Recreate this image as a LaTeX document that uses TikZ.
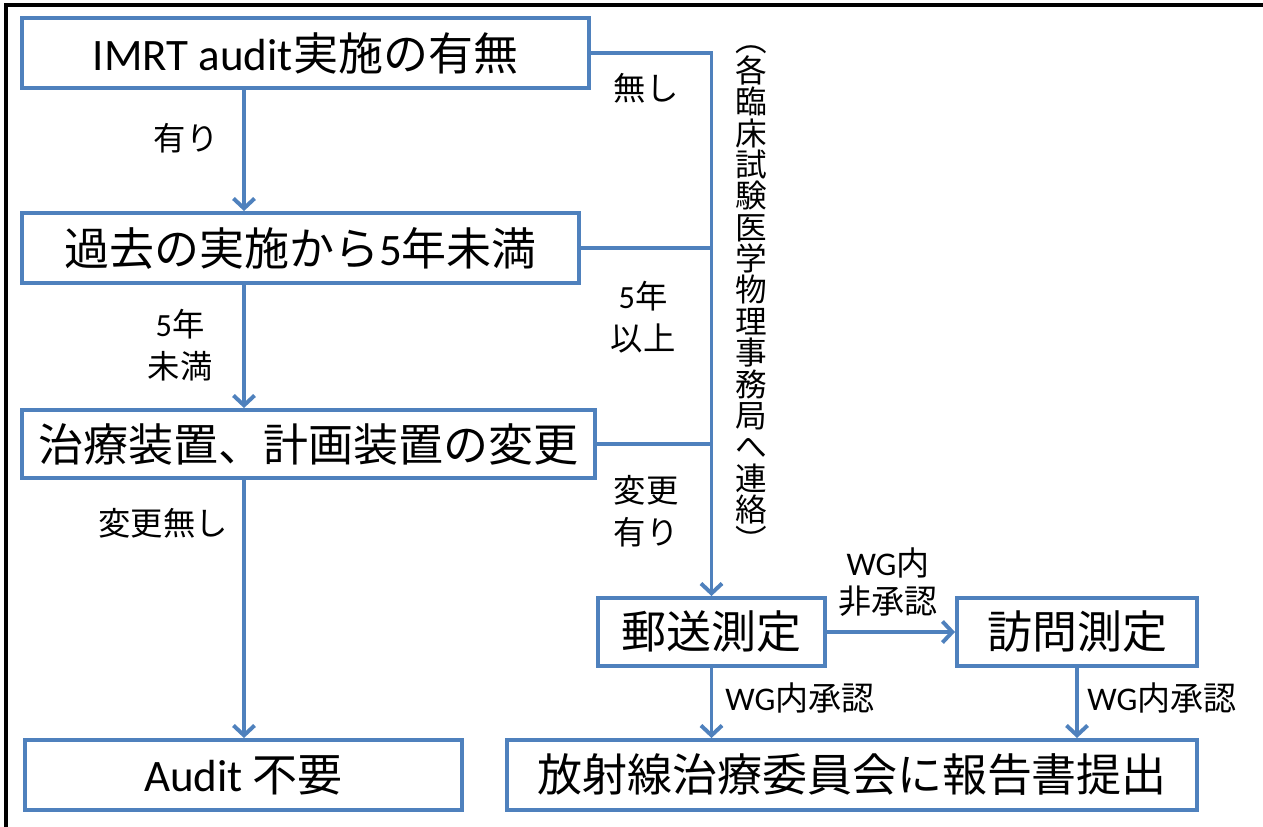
\documentclass[tikz,border=0pt]{standalone}
\usepackage{fontspec}
\setmainfont{Noto Sans CJK JP}
\newfontfamily\eng{Carlito}
\usetikzlibrary{arrows.meta}
\definecolor{flowblue}{HTML}{4F81BD}

\tikzset{box/.style   = {draw=flowblue, line width=2.8pt, fill=white, inner sep=0pt,
                         font=\fontsize{32}{32}\selectfont},
         lab/.style   = {align=center, inner sep=0pt, font=\fontsize{23}{30}\selectfont},
         wglab/.style = {align=center, inner sep=0pt, font=\fontsize{23.5}{27}\selectfont},
         flow/.style  = {draw=flowblue, line width=2.8pt,
                         -{Straight Barb[length=7pt,width=15pt]}},
         trunk/.style = {draw=flowblue, line width=2.8pt},
         frame/.style = {draw=black, line width=2.2pt}
        }

\begin{document}
\begin{tikzpicture}[x=0.025cm, y=-0.025cm]
  \useasboundingbox (0,0) rectangle (1263,827);
  \draw[frame] (1263,5) -| (6,827);

  % boxes
  \node[box, minimum width=14.175cm, minimum height=1.75cm] (imrt)    at (305.5,53) {{\eng IMRT audit}実施の有無};
  \node[box, minimum width=13.925cm, minimum height=1.75cm] (past)    at (300.5,248) {過去の実施から{\eng 5}年未満};
  \node[box, minimum width=14.325cm, minimum height=1.7cm]  (change)  at (308.5,444) {治療装置、計画装置の変更};
  \node[box, minimum width=10.925cm, minimum height=1.75cm] (noaudit) at (243.5,775) {{\eng Audit} 不要};
  \node[box, minimum width=5.675cm,  minimum height=1.7cm]  (mail)    at (711.5,632) {郵送測定};
  \node[box, minimum width=6cm,      minimum height=1.7cm]  (visit)   at (1077,632) {訪問測定};
  \node[box, minimum width=17.25cm,  minimum height=1.75cm] (report)  at (852,775) {放射線治療委員会に報告書提出};

  \coordinate (colL) at (244,0);

  % left column
  \draw[flow] (imrt.south -| colL) -- (past.north -| colL);
  \draw[flow] (past.south -| colL) -- (change.north -| colL);
  \draw[flow] (change.south -| colL) -- (noaudit.north -| colL);

  % right trunk
  \draw[flow] (imrt.east) -| (mail.north);
  \draw[trunk] (past.east) -- (past.east -| mail.north);
  \draw[trunk] (change.east) -- (change.east -| mail.north);

  \draw[flow] (mail) -- (visit);
  \draw[flow] (mail.south) -- (mail.south |- report.north);
  \draw[flow] (visit.south) -- (visit.south |- report.north);

  % labels
  \node[lab] (yes)     at (186,138) {有り};
  \node[lab] (lt5)     at (180,345) {{\eng 5}年\\未満};
  \node[lab] (nochg)   at (163,523) {変更無し};
  \node[lab] (no)      at (646,88)  {無し};
  \node[lab] (ge5)     at (643,317) {{\eng 5}年\\以上};
  \node[lab] (chg)     at (646,511) {変更\\有り};
  \node[wglab] (reject) at (888,582) {{\eng WG}内\\非承認};
  \node[wglab] (ok1)    at (800,698) {{\eng WG}内承認};
  \node[wglab] (ok2)    at (1162,698) {{\eng WG}内承認};

  \node[align=center, inner sep=0pt, font=\fontsize{22.5}{22.3}\selectfont] (office) at (751,299)
    {︵\\各\\臨\\床\\試\\験\\医\\学\\物\\理\\事\\務\\局\\へ\\連\\絡\\︶};
\end{tikzpicture}
\end{document}
